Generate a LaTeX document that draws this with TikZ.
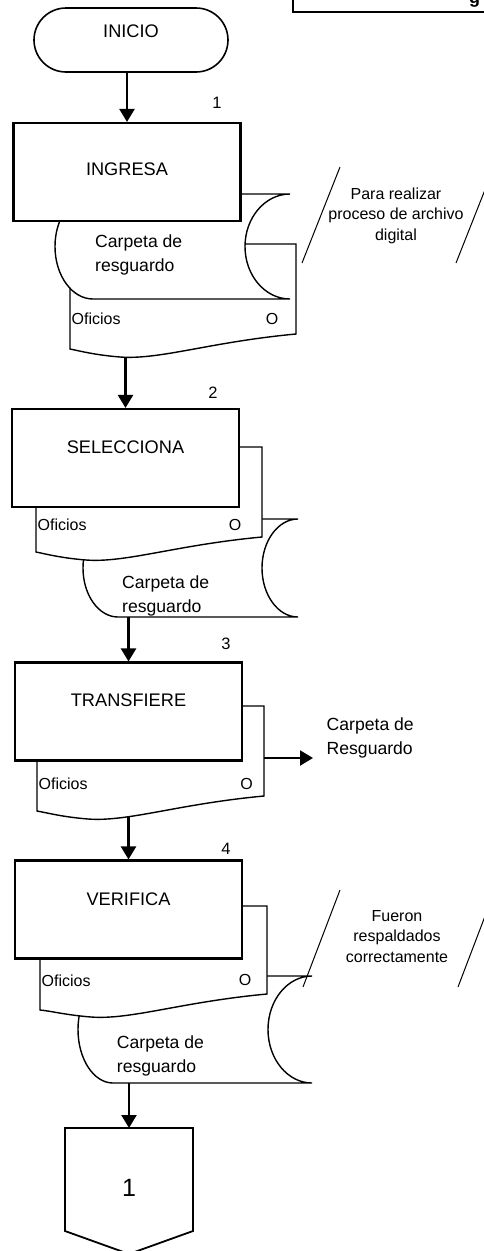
\documentclass[tikz,border=0pt]{standalone}
\usepackage{fontspec}
\setmainfont{Liberation Sans}
\usetikzlibrary{arrows.meta}
\def\hojaUno{(70,244) -- (296,244) -- (296,334) .. controls (210,342) and (160,360) .. (120,357) .. controls (95,355) and (80,351) .. (70,349) -- cycle}
\def\hojaDos{(36,447) -- (262,447) -- (262,537) .. controls (176,545) and (126,563) .. (86,560) .. controls (61,558) and (46,554) .. (36,552) -- cycle}
\def\hojaTres{(37,706) -- (264,706) -- (264,796) .. controls (178,804) and (128,822) .. (88,819) .. controls (63,817) and (48,813) .. (37,811) -- cycle}
\def\hojaCuatro{(40,906) -- (267,906) -- (267,994) .. controls (181,1002) and (131,1020) .. (91,1017) .. controls (66,1015) and (51,1011) .. (40,1010) -- cycle}
\def\carpetaUno{(93,194) -- (290,194) arc[start angle=270, end angle=90, x radius=45, y radius=52.5] -- (93,299) arc[start angle=90, end angle=270, x radius=38, y radius=52.5] -- cycle}
\def\carpetaDos{(118,519) -- (298,519) arc[start angle=270, end angle=90, x radius=36, y radius=49] -- (118,617) arc[start angle=90, end angle=270, x radius=35, y radius=49] -- cycle}
\def\carpetaCuatro{(113,976) -- (312,976) arc[start angle=270, end angle=90, x radius=44, y radius=53.5] -- (113,1083) arc[start angle=90, end angle=270, x radius=35, y radius=53.5] -- cycle}

\begin{document}
\begin{tikzpicture}[x=1pt, y=-1pt,
  proceso/.style={draw, fill=white, line width=2.1pt, minimum width=227pt, minimum height=98pt,
    font=\fontsize{18.2}{22}\selectfont, text height=13pt, text depth=22pt},
  terminal/.style={draw, fill=white, line width=1.6pt, rounded corners=32pt, minimum width=194pt,
    minimum height=64pt, font=\fontsize{18.2}{22}\selectfont, text height=13pt, text depth=18pt},
  hoja/.style={draw, fill=white, line width=1.4pt},
  flecha/.style={line width=2.2pt, -{Triangle[length=13pt, width=15pt]}},
  fino/.style={line width=1pt},
  numero/.style={font=\fontsize{16.5}{19}\selectfont, inner sep=0pt},
  chico/.style={font=\fontsize{16}{19}\selectfont, inner sep=0pt},
  texto/.style={font=\fontsize{17.6}{24}\selectfont, align=left, inner sep=0pt, anchor=west},
  nota/.style={font=\fontsize{16}{20.5}\selectfont, align=center, inner sep=0pt}]
  \useasboundingbox (0,0) rectangle (484,1251);

  % encabezado cortado
  \draw[line width=2.3pt] (293,-5) -- (293,12) -- (490,12);
  \node[font=\bfseries\fontsize{18}{20}\selectfont, anchor=base west, inner sep=0pt] (titulo) at (469,3) {g};

  \node[terminal] (inicio) at (131,40) {INICIO};

  % paso 1
  \draw[hoja] \hojaUno;
  \draw[hoja] \carpetaUno;
  \node[proceso, text depth=6pt] (ingresa) at (127,172) {INGRESA};
  \node[numero] (num1) at (217,103) {1};
  \draw[flecha] (inicio.south -| ingresa) -- (ingresa);
  \node[texto] (carpeta1) at (95,255.4) {Carpeta de\\resguardo};
  \node[chico, anchor=west] (oficios1) at (71.5,318.5) {Oficios};
  \node[chico] (o1) at (272,318.5) {O};
  \coordinate (salida1) at (125.5,357);
  \draw[fino] (340,167) -- (302,263) (494,167) -- (456,263);
  \node[nota] (nota1) at (396,215.5) {Para realizar\\proceso de archivo\\digital};

  % paso 2
  \draw[hoja] \carpetaDos;
  \draw[hoja] \hojaDos;
  \node[proceso] (selecciona) at (125.5,458) {SELECCIONA};
  \node[numero] (num2) at (213,393) {2};
  \draw[flecha] (salida1) -- (selecciona);
  \node[chico, anchor=west] (oficios2) at (37.5,525) {Oficios};
  \node[chico] (o2) at (235,525) {O};
  \node[texto] (carpeta2) at (122,595.7) {Carpeta de\\resguardo};
  \coordinate (salida2) at (128.5,617);

  % paso 3
  \draw[hoja] \hojaTres;
  \node[proceso, text depth=24pt] (transfiere) at (128.5,711.5) {TRANSFIERE};
  \node[numero] (num3) at (226,644) {3};
  \draw[flecha] (salida2) -- (transfiere);
  \node[chico, anchor=west] (oficios3) at (38.5,783.7) {Oficios};
  \node[chico] (o3) at (246.7,783.7) {O};
  \node[texto] (resguardo) at (326.5,738.4) {Carpeta de\\Resguardo};
  \coordinate (lado3) at (264,758);
  \draw[flecha, shorten >=13.5pt] (lado3) -- (lado3 -| resguardo.west);
  \coordinate (salida3) at (128.5,816);

  % paso 4
  \draw[hoja] \carpetaCuatro;
  \draw[hoja] \hojaCuatro;
  \node[proceso] (verifica) at (128.5,909.5) {VERIFICA};
  \node[numero] (num4) at (226,849) {4};
  \draw[flecha] (salida3) -- (verifica);
  \node[chico, anchor=west] (oficios4) at (41.5,980.3) {Oficios};
  \node[chico] (o4) at (245,980.3) {O};
  \node[texto] (carpeta4) at (116.7,1056.4) {Carpeta de\\resguardo};
  \draw[fino] (340,890) -- (303,987) (495,890) -- (458,987);
  \node[nota] (nota2) at (397,936.3) {Fueron\\respaldados\\correctamente};
  \coordinate (salida4) at (129,1083);

  % conector
  \node[font=\fontsize{25}{28}\selectfont, minimum width=128pt, minimum height=103pt, outer sep=0pt,
    text height=33pt, text depth=0pt] (conector) at (129,1179.5) {1};
  \draw[line width=1.8pt] (conector.north west) -- (conector.north east) -- (conector.south east)
    -- ([yshift=-23pt]conector.south) -- (conector.south west) -- cycle;
  \draw[flecha] (salida4) -- (conector);
\end{tikzpicture}
\end{document}
